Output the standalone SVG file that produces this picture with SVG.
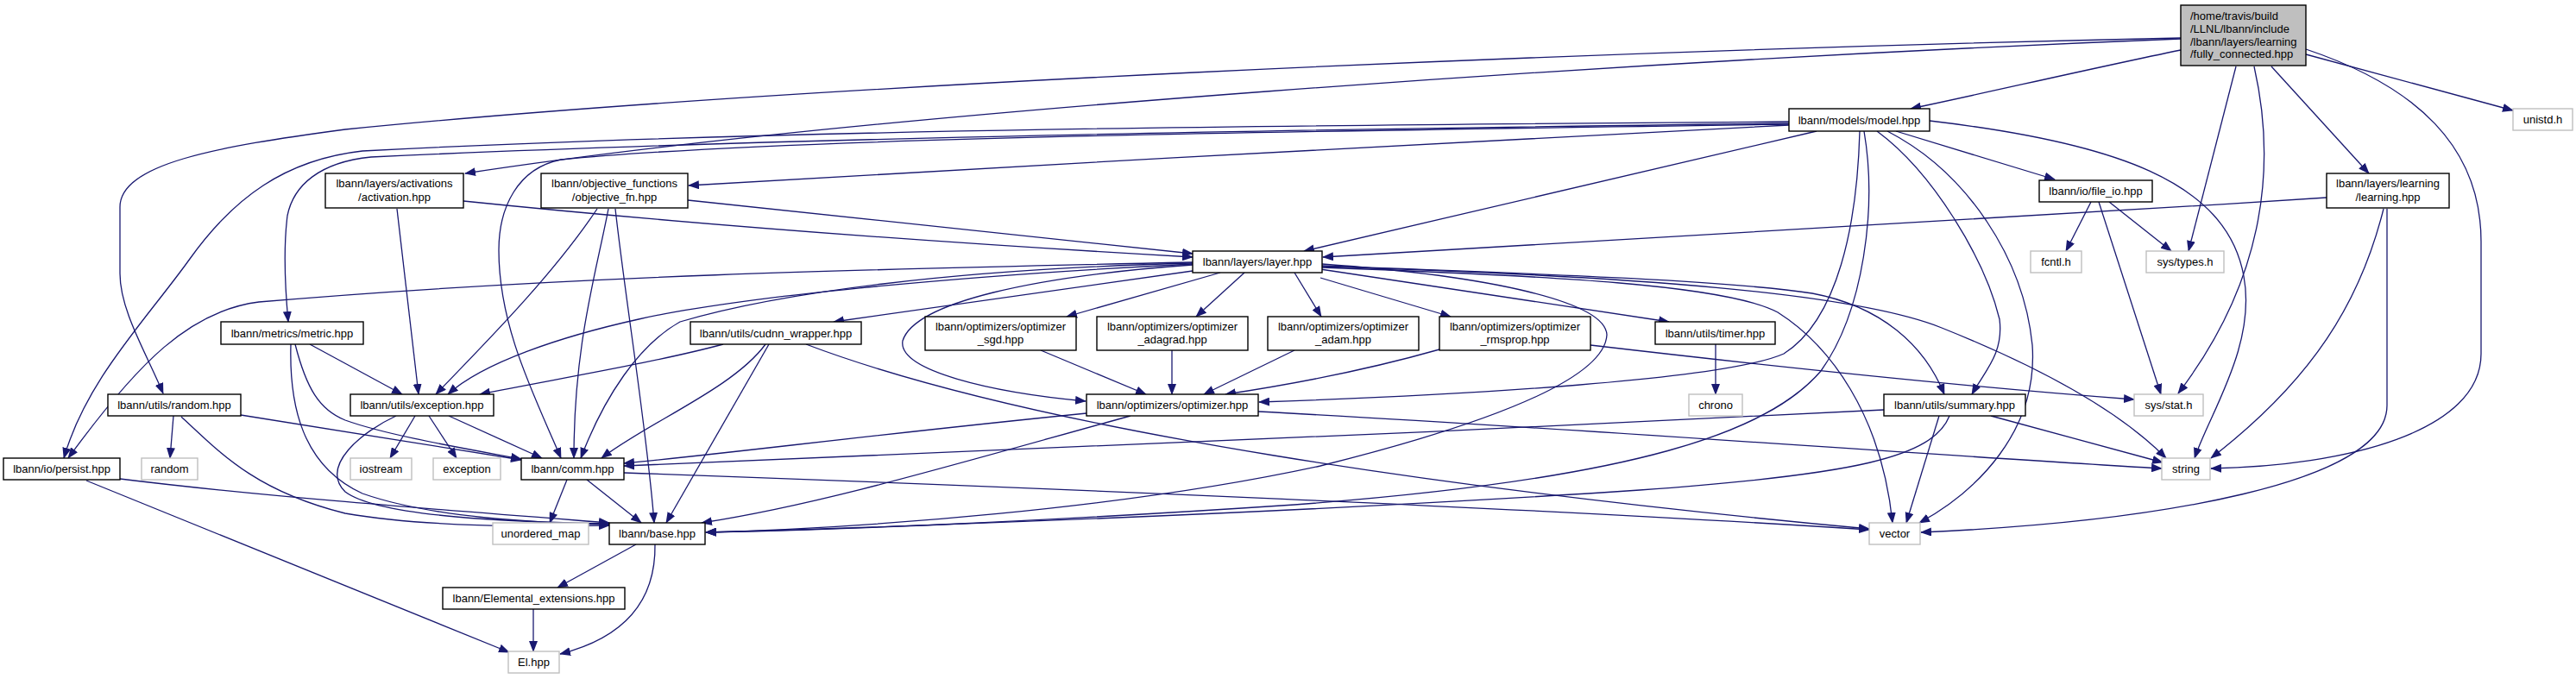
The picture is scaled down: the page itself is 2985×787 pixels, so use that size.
<svg xmlns="http://www.w3.org/2000/svg" width="2985" height="787" viewBox="0 0 2985 787">
<style>
.n rect{fill:#fff;stroke:#000;stroke-width:1.4}
.g rect{fill:#fff;stroke:#bfbfbf;stroke-width:1.4}
.root rect{fill:#bfbfbf;stroke:#000;stroke-width:1.4}
text{font-family:"Liberation Sans",Arial,sans-serif;font-size:13px;fill:#000;text-anchor:middle}
.root text{text-anchor:start}
#edges path{fill:none;stroke:#191970;stroke-width:1.3;marker-end:url(#ah)}
</style>
<defs>
<marker id="ah" markerUnits="userSpaceOnUse" markerWidth="13" markerHeight="10" refX="12" refY="5" orient="auto">
<path d="M0,0 L13,5 L0,10 z" fill="#191970"/>
</marker>
</defs>
<rect width="2985" height="787" fill="#fff"/>
<g id="edges">
<path d="M2527,58 C2420,80 2300,108 2214,126"/>
<path d="M2527,45 C1900,70 1000,130 539,201"/>
<path d="M2527,44 C1800,60 900,100 400,150 C250,170 139,190 139,240 L139,317 C139,360 170,410 189,456"/>
<path d="M2591,77 L2536,291"/>
<path d="M2612,77 C2640,200 2620,330 2524,456"/>
<path d="M2632,77 L2745,201"/>
<path d="M2672,63 L2912,128"/>
<path d="M2672,57 C2800,100 2875,170 2875,280 L2875,410 C2875,500 2720,540 2562,543"/>
<path d="M2197,152 L2381,208"/>
<path d="M2236,140 C2450,165 2580,210 2600,320 C2615,400 2560,480 2543,531"/>
<path d="M2105,152 L1511,291"/>
<path d="M2073,145 C1700,165 1200,190 798,215"/>
<path d="M2073,141 C1500,145 900,150 420,175 C330,185 270,230 220,300 C170,370 100,440 74,531"/>
<path d="M2073,143 C1500,150 900,160 430,182 C370,188 340,215 333,250 C328,290 330,330 334,373"/>
<path d="M2073,144 C1500,152 900,160 650,185 C600,195 578,240 578,290 C578,380 620,460 650,531"/>
<path d="M2175,152 C2240,200 2300,300 2317,370 C2322,410 2300,430 2285,457"/>
<path d="M2187,152 C2280,200 2345,300 2355,400 C2362,500 2290,570 2224,606"/>
<path d="M2160,152 C2175,240 2160,360 2110,430 C2050,500 1900,555 1500,585 C1200,605 950,615 818,617"/>
<path d="M2155,152 C2152,260 2130,370 2067,410 C2000,440 1700,458 1459,466"/>
<path d="M1532,310 C1800,320 2000,330 2060,362 C2120,400 2180,480 2193,606"/>
<path d="M1532,308 C1800,318 2000,325 2100,340 C2180,355 2230,400 2253,457"/>
<path d="M1532,309 C1900,320 2150,340 2250,380 C2350,420 2450,470 2510,531"/>
<path d="M1530,312 L1934,373"/>
<path d="M1530,322 L1681,367"/>
<path d="M1500,316 L1531,367"/>
<path d="M1442,316 L1386,367"/>
<path d="M1414,316 L1236,367"/>
<path d="M1382,314 L966,373"/>
<path d="M1382,307 C1200,320 1060,350 1046,395 C1040,430 1150,455 1258,465"/>
<path d="M1382,306 C1100,320 850,345 740,370 C650,390 560,420 519,457"/>
<path d="M1382,305 C1100,312 900,340 788,373 C740,400 700,460 673,531"/>
<path d="M1382,304 C1000,312 650,320 300,350 C220,360 160,420 79,531"/>
<path d="M1532,306 C1730,320 1860,350 1862,388 C1860,430 1770,480 1530,540 C1300,590 1000,612 818,617"/>
<path d="M2696,229 C2300,255 1900,275 1533,298"/>
<path d="M2762,242 C2735,350 2680,440 2562,531"/>
<path d="M2766,242 L2766,470 C2766,560 2500,605 2226,617"/>
<path d="M2423,234 L2394,291"/>
<path d="M2444,234 L2516,291"/>
<path d="M2432,234 L2504,457"/>
<path d="M537,233 C800,260 1100,282 1382,298"/>
<path d="M797,232 L1382,294"/>
<path d="M460,242 L485,457"/>
<path d="M692,242 C640,320 560,400 505,457"/>
<path d="M705,242 C690,320 665,400 665,531"/>
<path d="M713,242 C725,350 750,500 758,606"/>
<path d="M359,399 L466,457"/>
<path d="M342,399 C355,450 370,475 400,487 C450,505 540,520 604,532"/>
<path d="M337,399 C335,470 350,540 420,572 C500,600 620,606 706,608"/>
<path d="M201,482 L197,531"/>
<path d="M279,481 L604,533"/>
<path d="M210,483 C260,530 300,570 400,595 C500,612 620,610 706,609"/>
<path d="M481,482 L452,531"/>
<path d="M497,482 L529,531"/>
<path d="M520,482 L628,531"/>
<path d="M459,482 C420,500 370,540 400,570 C440,600 600,605 706,607"/>
<path d="M139,555 C300,575 500,590 706,606"/>
<path d="M100,557 L590,756"/>
<path d="M657,556 L637,606"/>
<path d="M680,556 L743,606"/>
<path d="M723,548 C1200,565 1800,590 2166,614"/>
<path d="M887,399 C850,450 750,490 697,531"/>
<path d="M891,399 L772,606"/>
<path d="M934,399 C1200,500 1700,570 2166,613"/>
<path d="M838,399 C760,420 640,440 556,457"/>
<path d="M1206,406 L1328,457"/>
<path d="M1358,406 L1358,457"/>
<path d="M1500,406 L1395,457"/>
<path d="M1668,405 C1580,430 1500,445 1420,457"/>
<path d="M1843,400 C2100,430 2300,450 2473,463"/>
<path d="M1259,479 C1000,505 850,525 723,537"/>
<path d="M1310,482 C1100,540 950,585 813,606"/>
<path d="M1458,477 C1800,495 2200,525 2505,543"/>
<path d="M1988,399 L1988,457"/>
<path d="M2183,475 C1700,500 1100,525 723,540"/>
<path d="M2259,482 C2240,530 2150,550 1900,568 C1500,595 1000,612 818,617"/>
<path d="M2247,482 L2209,606"/>
<path d="M2307,482 L2506,536"/>
<path d="M737,631 L646,681"/>
<path d="M759,631 C760,700 720,740 649,758"/>
<path d="M618,706 L618,755"/>
</g>
<g id="n_fc" class="root"><rect x="2527" y="6" width="145" height="70"/><text x="2538" y="23">/home/travis/build</text><text x="2538" y="37.5">/LLNL/lbann/include</text><text x="2538" y="52.5">/lbann/layers/learning</text><text x="2538" y="67">/fully_connected.hpp</text></g>
<g id="n_model" class="n"><rect x="2073" y="126" width="163" height="26"/><text x="2154.5" y="143.5">lbann/models/model.hpp</text></g>
<g id="n_unistd" class="g"><rect x="2912" y="126" width="69" height="25"/><text x="2946.5" y="143">unistd.h</text></g>
<g id="n_activation" class="n"><rect x="377" y="201" width="160" height="40"/><text x="457" y="216.5">lbann/layers/activations</text><text x="457" y="232.5">/activation.hpp</text></g>
<g id="n_objective" class="n"><rect x="627" y="201" width="170" height="40"/><text x="712" y="216.5">lbann/objective_functions</text><text x="712" y="232.5">/objective_fn.hpp</text></g>
<g id="n_fileio" class="n"><rect x="2363" y="209" width="131" height="25"/><text x="2428.5" y="226">lbann/io/file_io.hpp</text></g>
<g id="n_learning" class="n"><rect x="2696" y="201" width="142" height="40"/><text x="2767" y="216.5">lbann/layers/learning</text><text x="2767" y="232.5">/learning.hpp</text></g>
<g id="n_layer" class="n"><rect x="1382" y="291" width="150" height="25"/><text x="1457" y="308">lbann/layers/layer.hpp</text></g>
<g id="n_fcntl" class="g"><rect x="2353" y="291" width="59" height="25"/><text x="2382.5" y="308">fcntl.h</text></g>
<g id="n_systypes" class="g"><rect x="2487" y="291" width="90" height="25"/><text x="2532" y="308">sys/types.h</text></g>
<g id="n_metric" class="n"><rect x="256" y="373" width="165" height="26"/><text x="338.5" y="390.5">lbann/metrics/metric.hpp</text></g>
<g id="n_cudnn" class="n"><rect x="800" y="373" width="198" height="26"/><text x="899" y="390.5">lbann/utils/cudnn_wrapper.hpp</text></g>
<g id="n_sgd" class="n"><rect x="1072" y="367" width="175" height="39"/><text x="1159.5" y="382.5">lbann/optimizers/optimizer</text><text x="1159.5" y="398">_sgd.hpp</text></g>
<g id="n_adagrad" class="n"><rect x="1271" y="367" width="175" height="39"/><text x="1358.5" y="382.5">lbann/optimizers/optimizer</text><text x="1358.5" y="398">_adagrad.hpp</text></g>
<g id="n_adam" class="n"><rect x="1469" y="367" width="175" height="39"/><text x="1556.5" y="382.5">lbann/optimizers/optimizer</text><text x="1556.5" y="398">_adam.hpp</text></g>
<g id="n_rmsprop" class="n"><rect x="1668" y="367" width="175" height="39"/><text x="1755.5" y="382.5">lbann/optimizers/optimizer</text><text x="1755.5" y="398">_rmsprop.hpp</text></g>
<g id="n_timer" class="n"><rect x="1918" y="373" width="139" height="26"/><text x="1987.5" y="390.5">lbann/utils/timer.hpp</text></g>
<g id="n_randomhpp" class="n"><rect x="125" y="457" width="154" height="25"/><text x="202" y="474">lbann/utils/random.hpp</text></g>
<g id="n_exceptionhpp" class="n"><rect x="406" y="457" width="166" height="25"/><text x="489" y="474">lbann/utils/exception.hpp</text></g>
<g id="n_optimizer" class="n"><rect x="1259" y="457" width="199" height="25"/><text x="1358.5" y="474">lbann/optimizers/optimizer.hpp</text></g>
<g id="n_chrono" class="g"><rect x="1957" y="457" width="62" height="25"/><text x="1988" y="474">chrono</text></g>
<g id="n_summary" class="n"><rect x="2183" y="457" width="164" height="25"/><text x="2265" y="474">lbann/utils/summary.hpp</text></g>
<g id="n_sysstat" class="g"><rect x="2473" y="457" width="80" height="25"/><text x="2513" y="474">sys/stat.h</text></g>
<g id="n_persist" class="n"><rect x="4" y="531" width="135" height="25"/><text x="71.5" y="548">lbann/io/persist.hpp</text></g>
<g id="n_random" class="g"><rect x="164" y="531" width="65" height="25"/><text x="196.5" y="548">random</text></g>
<g id="n_iostream" class="g"><rect x="406" y="531" width="71" height="25"/><text x="441.5" y="548">iostream</text></g>
<g id="n_exception" class="g"><rect x="502" y="531" width="78" height="25"/><text x="541" y="548">exception</text></g>
<g id="n_comm" class="n"><rect x="604" y="531" width="119" height="25"/><text x="663.5" y="548">lbann/comm.hpp</text></g>
<g id="n_string" class="g"><rect x="2505" y="531" width="56" height="25"/><text x="2533" y="548">string</text></g>
<g id="n_unordered" class="g"><rect x="571" y="606" width="111" height="25"/><text x="626.5" y="623">unordered_map</text></g>
<g id="n_base" class="n"><rect x="706" y="606" width="111" height="25"/><text x="761.5" y="623">lbann/base.hpp</text></g>
<g id="n_vector" class="g"><rect x="2166" y="606" width="59" height="25"/><text x="2195.5" y="623">vector</text></g>
<g id="n_elemental" class="n"><rect x="513" y="681" width="211" height="25"/><text x="618.5" y="698">lbann/Elemental_extensions.hpp</text></g>
<g id="n_el" class="g"><rect x="589" y="755" width="59" height="25"/><text x="618.5" y="772">El.hpp</text></g>
</svg>
